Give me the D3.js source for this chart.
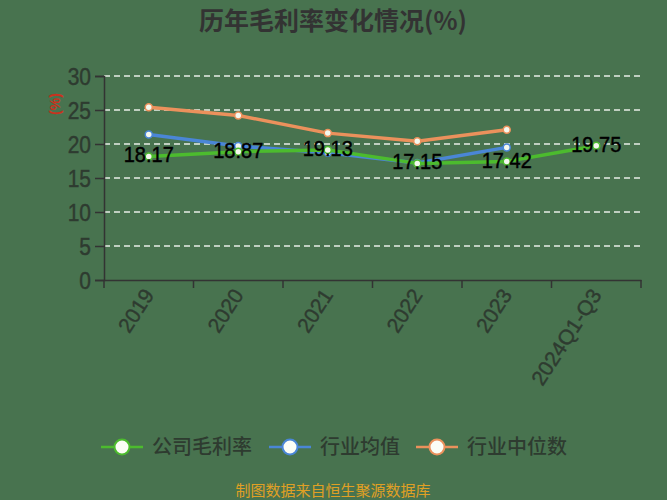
<!DOCTYPE html>
<html><head><meta charset="utf-8">
<script src="https://cdn.jsdelivr.net/npm/d3@7"></script>
<style>body{margin:0;background:#48734f;}svg{display:block;}</style>
</head><body>
<svg id="c" width="667" height="500"></svg>
<script>
const categories = ["2019","2020","2021","2022","2023","2024Q1-Q3"];
const companyMargin = [18.17, 18.87, 19.13, 17.15, 17.42, 19.75];
const industryMean = [21.4, 19.7, 18.7, 17.2, 19.5, null];
const industryMedian = [25.4, 24.2, 21.6, 20.4, 22.1, null];
const yTicks = [0,5,10,15,20,25,30];
const seriesNames = ["公司毛利率","行业均值","行业中位数"];
const colors = ["#4cbb2e","#4a86d6","#eb915c"];

const svg = d3.select("#c");
const font = "'Liberation Sans', Arial, sans-serif";
const cjk = "'Noto Sans CJK SC', sans-serif";
svg.append("rect").attr("width",667).attr("height",500).attr("fill","#48734f");

const L=104, R=641, T=76, B=280;
const x = d3.scaleBand().domain(categories).range([L,R]);
const y = d3.scaleLinear().domain([0,30]).range([B,T]);

// title
svg.append("text").attr("x",333).attr("y",30).attr("text-anchor","middle")
  .attr("font-family",cjk).attr("font-weight","bold").attr("font-size",25)
  .attr("fill","#333").text("历年毛利率变化情况(%)");

// grid
svg.append("g").selectAll("line").data(yTicks.filter(d=>d>0)).join("line")
  .attr("x1",L).attr("x2",R).attr("y1",d=>y(d)).attr("y2",d=>y(d))
  .attr("stroke","#e8eee8").attr("stroke-width",1.5).attr("stroke-dasharray","6,4");

// y axis
const ya = svg.append("g").attr("transform",`translate(${L},0)`)
  .call(d3.axisLeft(y).tickValues(yTicks).tickSize(9).tickPadding(4));
ya.select(".domain").attr("stroke","#333").attr("stroke-width",1.5);
ya.selectAll(".tick line").attr("stroke","#333").attr("stroke-width",1.5);
ya.selectAll(".tick text").attr("font-family",font).attr("font-size",21).attr("fill","#2e3b30")
  .attr("stroke","#2e3b30").attr("stroke-width",0.4)
  .attr("dy",null).attr("y",8).attr("transform","scale(1,1.12)");

// y unit label
svg.append("text").attr("transform","translate(60,104) rotate(-90)")
  .attr("text-anchor","middle").attr("font-family",font).attr("font-size",14)
  .attr("font-weight","bold").attr("fill","#c8321e").text("(%)");

// x axis
const xa = svg.append("g").attr("transform",`translate(0,${B})`)
  .call(d3.axisBottom(x).tickSize(0));
xa.select(".domain").attr("stroke","#333").attr("stroke-width",1.5);
xa.selectAll(".tick text").remove();
const bounds = categories.map(c=>x(c)).concat([R]);
svg.append("g").selectAll("line").data(bounds).join("line")
  .attr("x1",d=>d).attr("x2",d=>d).attr("y1",B).attr("y2",B+8)
  .attr("stroke","#333").attr("stroke-width",1.5);
svg.append("g").selectAll("text").data(categories).join("text")
  .attr("transform",d=>`translate(${x(d)+x.bandwidth()/2+6},${B+15}) rotate(-57)`)
  .attr("text-anchor","end").attr("font-family",font).attr("font-size",21)
  .attr("fill","#2e3b30").attr("stroke","#2e3b30").attr("stroke-width",0.4).text(d=>d);

// lines
const cx = c => x(c)+x.bandwidth()/2;
const allSeries = [companyMargin, industryMean, industryMedian];
const line = d3.line().defined(d=>d.v!=null).x(d=>cx(d.c)).y(d=>y(d.v));
[2,1,0].forEach(i=>{
  const pts = categories.map((c,j)=>({c, v: allSeries[i][j]}));
  svg.append("path").datum(pts).attr("d",line).attr("fill","none")
    .attr("stroke",colors[i]).attr("stroke-width",3.5).attr("stroke-linejoin","round");
  svg.append("g").selectAll("circle").data(pts.filter(p=>p.v!=null)).join("circle")
    .attr("cx",p=>cx(p.c)).attr("cy",p=>y(p.v)).attr("r",3.5)
    .attr("fill","#f4f8ee").attr("stroke",colors[i]).attr("stroke-width",1.5);
});

// data labels
svg.append("g").selectAll("text").data(categories.map((c,j)=>({c,v:companyMargin[j]}))).join("text")
  .attr("transform",p=>`translate(${cx(p.c)},${y(p.v)+6}) scale(1,1.12)`)
  .attr("text-anchor","middle")
  .attr("font-family",font).attr("font-size",20).attr("fill","#000")
  .attr("stroke","#000").attr("stroke-width",0.4)
  .text(p=>p.v.toFixed(2));

// legend
const legX = [122, 290, 437];
seriesNames.forEach((n,i)=>{
  const g = svg.append("g");
  g.append("line").attr("x1",legX[i]-21).attr("x2",legX[i]+21).attr("y1",447).attr("y2",447)
    .attr("stroke",colors[i]).attr("stroke-width",2.5);
  g.append("circle").attr("cx",legX[i]).attr("cy",447).attr("r",7.5)
    .attr("fill","#fbfdf6").attr("stroke",colors[i]).attr("stroke-width",2);
  g.append("text").attr("x",legX[i]+30).attr("y",454).attr("font-family",cjk)
    .attr("font-size",20).attr("fill","#2e3b30").attr("font-weight","500").text(n);
});

// source
svg.append("text").attr("x",333).attr("y",496).attr("text-anchor","middle")
  .attr("font-family",cjk).attr("font-size",15).attr("fill","#e0a024")
  .text("制图数据来自恒生聚源数据库");
</script>
</body></html>
